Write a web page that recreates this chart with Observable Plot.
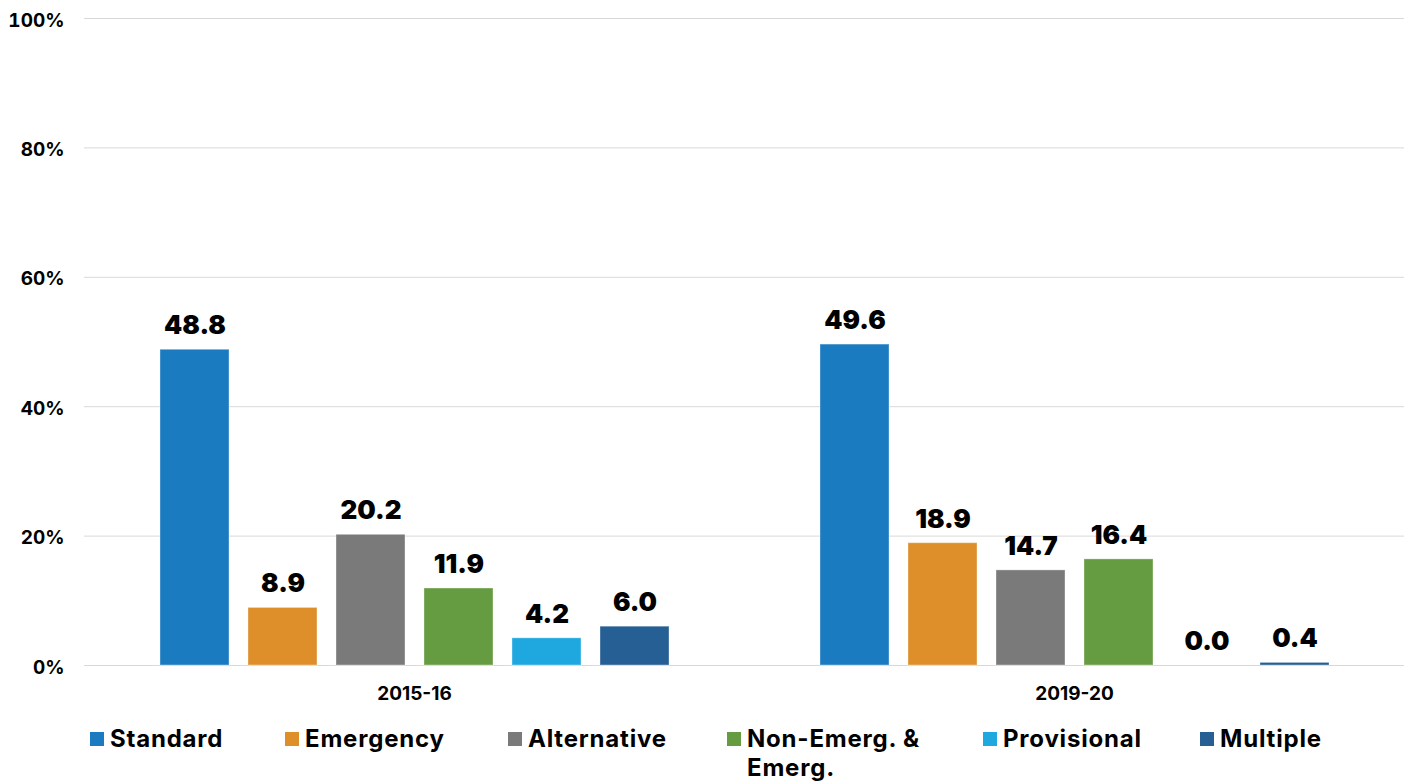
<!DOCTYPE html>
<html><head><meta charset="utf-8">
<script src="https://cdn.jsdelivr.net/npm/d3@7"></script>
<script src="https://cdn.jsdelivr.net/npm/@observablehq/plot@0.6"></script>
<style>
body{margin:0;background:#fff;font-family:Inter,"Open Sans",sans-serif;}
#chart{position:relative;width:1411px;}
#legend{position:relative;height:71px;margin-top:0;}
.li{position:absolute;top:14px;display:flex;align-items:flex-start;font-weight:700;font-size:24px;color:#000;line-height:29px;letter-spacing:0.8px;}
.sw{width:14px;height:14px;margin-top:8px;margin-right:6px;flex:none;}
</style></head>
<body><div id="chart"></div><div id="legend"></div>
<script>
const years = ["2015-16", "2019-20"];
const categories = ["Standard", "Emergency", "Alternative", "Non-Emerg. & Emerg.", "Provisional", "Multiple"];
const values2015 = [48.8, 8.9, 20.2, 11.9, 4.2, 6.0];
const values2019 = [49.6, 18.9, 14.7, 16.4, 0.0, 0.4];
const colors = ["#1b7bc0", "#de8f29", "#7a7a7a", "#669c41", "#1fa7e0", "#255f93"];
const yTicks = [0, 20, 40, 60, 80, 100];

const data = [];
[values2015, values2019].forEach((vals, gi) => vals.forEach((v, i) => data.push({year: years[gi], cat: categories[i], value: v})));

const plot = Plot.plot({
  width: 1411, height: 710,
  marginLeft: 83, marginRight: 7, marginTop: 18, marginBottom: 45,
  style: {fontFamily: "Inter, 'Open Sans', sans-serif", background: "#fff"},
  fx: {domain: years, padding: 0, label: null, axis: null},
  x: {domain: categories, paddingInner: 0.22, paddingOuter: 0.86, axis: null},
  y: {domain: [0, 100], ticks: yTicks, label: null, axis: null},
  color: {domain: categories, range: colors},
  marks: [
    Plot.gridY(yTicks, {stroke: "#d9d9d9", strokeOpacity: 1, strokeWidth: 1}),
    Plot.axisY(yTicks, {tickSize: 0, tickPadding: 20, tickFormat: d => d + "%", fontSize: 19, fontWeight: 700, fill: "#000", dy: 2}),
    Plot.barY(data, {fx: "year", x: "cat", y: "value", fill: "cat", stroke: "#fff", strokeOpacity: 0.35, strokeWidth: 1}),
    Plot.text(data, {fx: "year", x: "cat", y: "value", text: d => d.value.toFixed(1), dy: -24, fontSize: 26, fontWeight: 900, fill: "#000"}),
    Plot.axisFx({anchor: "bottom", tickSize: 0, tickPadding: 21, fontSize: 19, fontWeight: 700, fill: "#000", label: null})
  ]
});
document.getElementById("chart").appendChild(plot);

const legendLefts = [90, 285, 508, 727, 983, 1200];
const leg = document.getElementById("legend");
categories.forEach((c, i) => {
  const d = document.createElement("div");
  d.className = "li";
  d.style.left = legendLefts[i] + "px";
  const s = document.createElement("span"); s.className = "sw"; s.style.background = colors[i];
  const t = document.createElement("span"); t.textContent = c; t.style.maxWidth = "190px";
  d.appendChild(s); d.appendChild(t); leg.appendChild(d);
});
</script></body></html>
